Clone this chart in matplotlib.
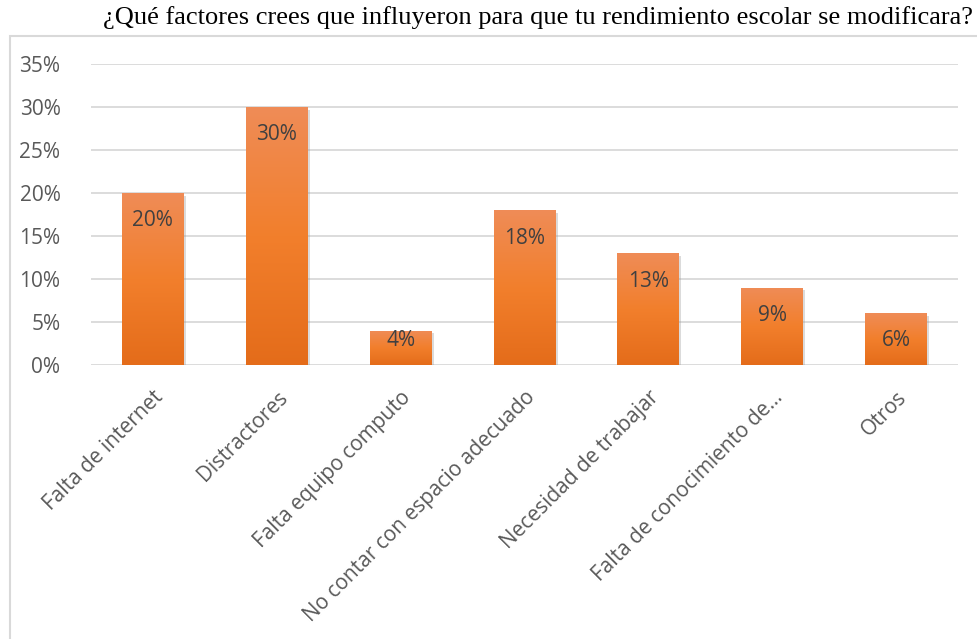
import matplotlib
matplotlib.use('Agg')
import matplotlib.pyplot as plt
import matplotlib.patches as mpatches
import matplotlib.patheffects as pe
from matplotlib.colors import LinearSegmentedColormap
import numpy as np

title = '¿Qué factores crees que influyeron para que tu rendimiento escolar se modificara?'
categories = ['Falta de internet', 'Distractores', 'Falta equipo computo',
              'No contar con espacio adecuado', 'Necesidad de trabajar',
              'Falta de conocimiento de…', 'Otros']
values = [0.20, 0.30, 0.04, 0.18, 0.13, 0.09, 0.06]
y_ticks = [0, 0.05, 0.10, 0.15, 0.20, 0.25, 0.30, 0.35]

W, H = 977, 639
fig = plt.figure(figsize=(W / 100, H / 100), dpi=100)
fig.patch.set_facecolor('white')

# chart area border (runs off the right and bottom edges)
fig.patches.append(mpatches.Rectangle((10 / W, -0.1), 1.1, 1 - 36 / H + 0.1,
                                      transform=fig.transFigure, fill=False,
                                      edgecolor='#D9D9D9', linewidth=1.5))

fig.text(538 / W, 1 - 18 / H, title, ha='center', va='center',
         fontsize=19, family='Liberation Serif', color='black')

ax = fig.add_axes([91 / W, 1 - 365 / H, (958 - 91) / W, (365 - 64) / H])
ax.set_xlim(-0.5, len(categories) - 0.5)
ax.set_ylim(0, 0.35)

for s in ax.spines.values():
    s.set_visible(False)
ax.set_yticks(y_ticks)
ax.set_yticklabels([f'{int(round(t * 100))}%' for t in y_ticks])
ax.yaxis.grid(True, color='#D9D9D9', linewidth=1.3)
ax.set_axisbelow(True)
ax.tick_params(axis='y', length=0, pad=22, labelsize=15, labelcolor='#595959')
ax.tick_params(axis='x', length=0, pad=16, labelsize=15, labelcolor='#595959')
for lbl in ax.get_yticklabels():
    lbl.set_family('Open Sans')

ax.set_xticks(range(len(categories)))
ax.set_xticklabels(categories, rotation=45, ha='right', va='top',
                   rotation_mode='anchor', family='Open Sans')

cmap = LinearSegmentedColormap.from_list('bar', ['#E46C1A', '#F27F2C', '#EF8C57'])
grad = np.linspace(0, 1, 256).reshape(-1, 1)
bars = ax.bar(range(len(categories)), values, width=0.5, color='none',
              edgecolor='none', zorder=2)
px_per_unit = (365 - 64) / 0.35
for b, v in zip(bars, values):
    x0 = b.get_x()
    shadow = mpatches.Rectangle((x0, 0), b.get_width(), v, facecolor='#E46C1A',
                                edgecolor='none', zorder=1.5,
                                path_effects=[pe.SimplePatchShadow(offset=(1.5, -2), shadow_rgbFace='#999999', alpha=0.35)])
    ax.add_patch(shadow)
    im = ax.imshow(grad, extent=(x0, x0 + b.get_width(), 0, v), origin='lower',
                   cmap=cmap, aspect='auto', zorder=2)
    im.set_clip_path(b)
    # label sits inside the top; moves up when the bar is short
    off = min(28, v * px_per_unit - 25)
    ax.annotate(f'{int(round(v * 100))}%', (b.get_x() + b.get_width() / 2, v),
                xytext=(0, -off), textcoords='offset pixels', ha='center',
                va='center', fontsize=15, color='#404040', family='Open Sans',
                zorder=3)

ax.set_xlim(-0.5, len(categories) - 0.5)
ax.set_ylim(0, 0.35)

fig.savefig('out.png', dpi=100)
